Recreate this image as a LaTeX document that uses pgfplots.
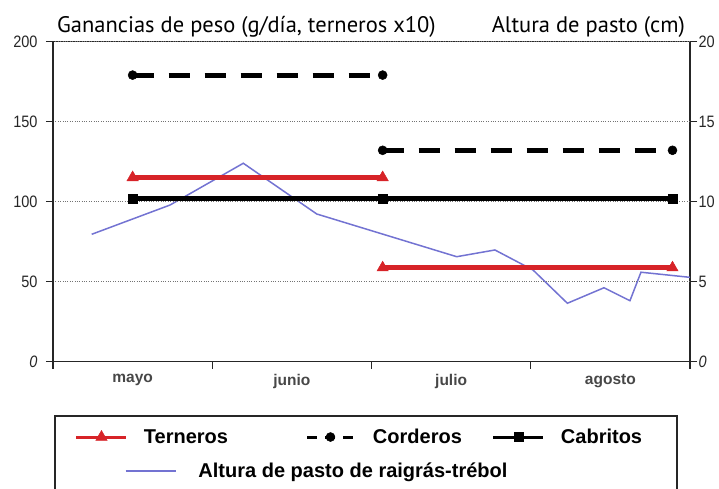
\documentclass[border=0pt]{standalone}
\usepackage{fontspec}
\setmainfont{Liberation Sans}
\newfontfamily\headfont{PT Sans}
\newfontfamily\tickfont[FakeStretch=0.88]{Liberation Sans}
\usepackage{pgfplots}
\pgfplotsset{compat=1.18}
\usetikzlibrary{calc}
\definecolor{tred}{RGB}{215,35,40}
\definecolor{pblue}{RGB}{115,115,210}
\newcommand\ticklab{\tickfont\fontsize{16.5bp}{18bp}\selectfont}
\newcommand\legfont{\fontsize{20bp}{24bp}\selectfont\bfseries}
\pgfplotsset{
  lineleg/.style={legend image code/.code={\draw[mark repeat=2,mark phase=2,##1, line width=3bp]
     plot coordinates {(0bp,0bp) (25bp,0bp) (50bp,0bp)};}},
  dashleg/.style={legend image code/.code={\draw[mark repeat=2,mark phase=2,##1, line width=3bp, dash pattern=on 10bp off 8bp, dash phase=-2bp]
     plot coordinates {(0bp,0bp) (25bp,0bp) (50bp,0bp)};}},
  plainleg/.style={legend image code/.code={\draw[##1] plot coordinates {(0bp,0bp) (50bp,0bp)};}},
}
\begin{document}
\begin{tikzpicture}
% ---- right axis: pasture height (cm)
\begin{axis}[name=ax2, scale only axis, width=637bp, height=320bp,
  xmin=0, xmax=4, ymin=0, ymax=20,
  axis x line*=top, axis y line*=right,
  xtick=\empty, ytick={0,5,10,15,20}, yticklabels={\textit{0},5,10,15,20},
  tick align=outside, major tick length=7bp,
  axis line style={black!85, line width=1.2bp},
  every tick/.style={black!85, line width=1.2bp},
  yticklabel style={font=\ticklab, text=black!85, xshift=-2bp},
  legend style={at={(0.113,-0.342)}, anchor=west, draw=none, fill=none,
    inner sep=0pt, outer sep=0pt, nodes={inner sep=0pt, font=\legfont},
    /tikz/every odd column/.style={column sep=22bp}},
  plainleg,
  legend cell align=left]
\addplot[pblue, line width=1.5bp] coordinates {
 (0.243,7.95) (0.735,9.78) (1.195,12.39) (1.656,9.22) (2.535,6.55)
 (2.775,6.97) (3.014,5.72) (3.23,3.64) (3.46,4.61) (3.623,3.80)
 (3.692,5.58) (4.0,5.26)};
\addlegendentry{Altura de pasto de raigrás-trébol}
\end{axis}
% ---- left axis: weight gains
\begin{axis}[name=ax, scale only axis, width=637bp, height=320bp,
  xmin=0, xmax=4, ymin=0, ymax=200,
  axis x line*=bottom, axis y line*=left,
  xtick={0,1,2,3,4}, xticklabels={,,,,},
  extra x ticks={0.5,1.5,2.5,3.5},
  extra x tick labels={mayo,junio,julio,agosto},
  extra x tick style={major tick length=0pt,
    xticklabel style={font=\fontsize{15.5bp}{18bp}\selectfont\bfseries, text=black!72, yshift=-9bp}},
  ytick={0,50,100,150,200}, yticklabels={\textit{0},50,100,150,200},
  ymajorgrids, grid style={black!55, dotted, line width=1bp},
  tick align=outside, major tick length=7bp,
  axis line style={black!85, line width=1.2bp},
  every tick/.style={black!85, line width=1.2bp},
  yticklabel style={font=\ticklab, text=black!85, xshift=-5bp},
  legend columns=3,
  legend style={at={(0.0345,-0.236)}, anchor=west, draw=none, fill=none,
    inner sep=0pt, outer sep=0pt, nodes={inner sep=0pt, font=\legfont},
    /tikz/every odd column/.style={column sep=16bp},
    /tikz/every even column/.style={column sep=0bp}},
  lineleg,
  legend cell align=left]
\addplot[tred, line width=5bp, mark=triangle*, mark size=6.5bp,
  mark options={solid, line width=0.5bp}] coordinates {(0.5,115) (2.07,115)};
\addlegendentry[text width=160bp]{Terneros}
\addplot[black, line width=5bp, dash pattern=on 21bp off 15bp, mark=*, mark size=4.5bp,
  mark options={solid, line width=0.5bp}, dashleg] coordinates {(0.5,179) (2.07,179)};
\addlegendentry[text width=119bp]{Corderos}
\addplot[black, line width=5bp, mark=square*, mark size=4.5bp,
  mark options={solid, line width=0.5bp}] coordinates {(0.5,102) (2.07,102) (3.89,102)};
\addlegendentry{Cabritos}
\addplot[forget plot, tred, line width=5bp, mark=triangle*, mark size=6.5bp,
  mark options={solid, line width=0.5bp}] coordinates {(2.07,58.6) (3.89,58.6)};
\addplot[forget plot, black, line width=5bp, dash pattern=on 21bp off 15bp, mark=*, mark size=4.5bp,
  mark options={solid, line width=0.5bp}] coordinates {(2.07,132) (3.89,132)};
\end{axis}
\node[anchor=base west, inner sep=0pt, font=\headfont\fontsize{22.5bp}{26bp}\selectfont]
  at ($(ax.north west)+(4bp,9bp)$) {Ganancias de peso (g/día, terneros x10)};
\node[anchor=base east, inner sep=0pt, font=\headfont\fontsize{22.5bp}{26bp}\selectfont]
  at ($(ax.north east)+(-5bp,9bp)$) {Altura de pasto (cm)};
\draw[line width=1.3bp, black!85] ($(ax.south west)+(2bp,-54.5bp)$) rectangle ($(ax.south west)+(624bp,-160bp)$);
\pgfresetboundingbox
\path[use as bounding box] ($(ax.south west)+(-53bp,-127.5bp)$) rectangle ($(ax.south west)+(666bp,361.5bp)$);
\end{tikzpicture}
\end{document}
